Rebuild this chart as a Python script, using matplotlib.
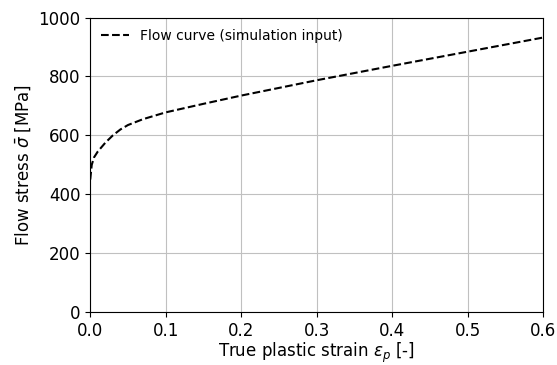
import matplotlib
matplotlib.use("Agg")
import matplotlib.pyplot as plt

# flow curve
eps_p = [0.0, 0.002, 0.005, 0.01, 0.02, 0.03, 0.04, 0.05, 0.07, 0.1,
         0.15, 0.2, 0.3, 0.4, 0.5, 0.6]
sigma = [450, 500, 525, 545, 575, 600, 620, 635, 655, 678,
         707, 735, 787, 836, 884, 932]

plt.rcParams['font.size'] = 12

fig, ax = plt.subplots(figsize=(5.57, 3.65), dpi=100)
ax.plot(eps_p, sigma, 'k--', linewidth=1.5, label='Flow curve (simulation input)')
ax.set_xlim(0, 0.6)
ax.set_ylim(0, 1000)
ax.grid(True, color='#c0c0c0', linewidth=0.8)
ax.set_xlabel(r'True plastic strain $\varepsilon_p$ [-]', labelpad=1)
ax.set_ylabel(r'Flow stress $\bar{\sigma}$ [MPa]')
ax.legend(loc='upper left', frameon=False, fontsize=10, borderaxespad=0.4)
fig.subplots_adjust(left=0.162, right=0.975, bottom=0.145, top=0.952)
fig.savefig('out.png', dpi=100)
